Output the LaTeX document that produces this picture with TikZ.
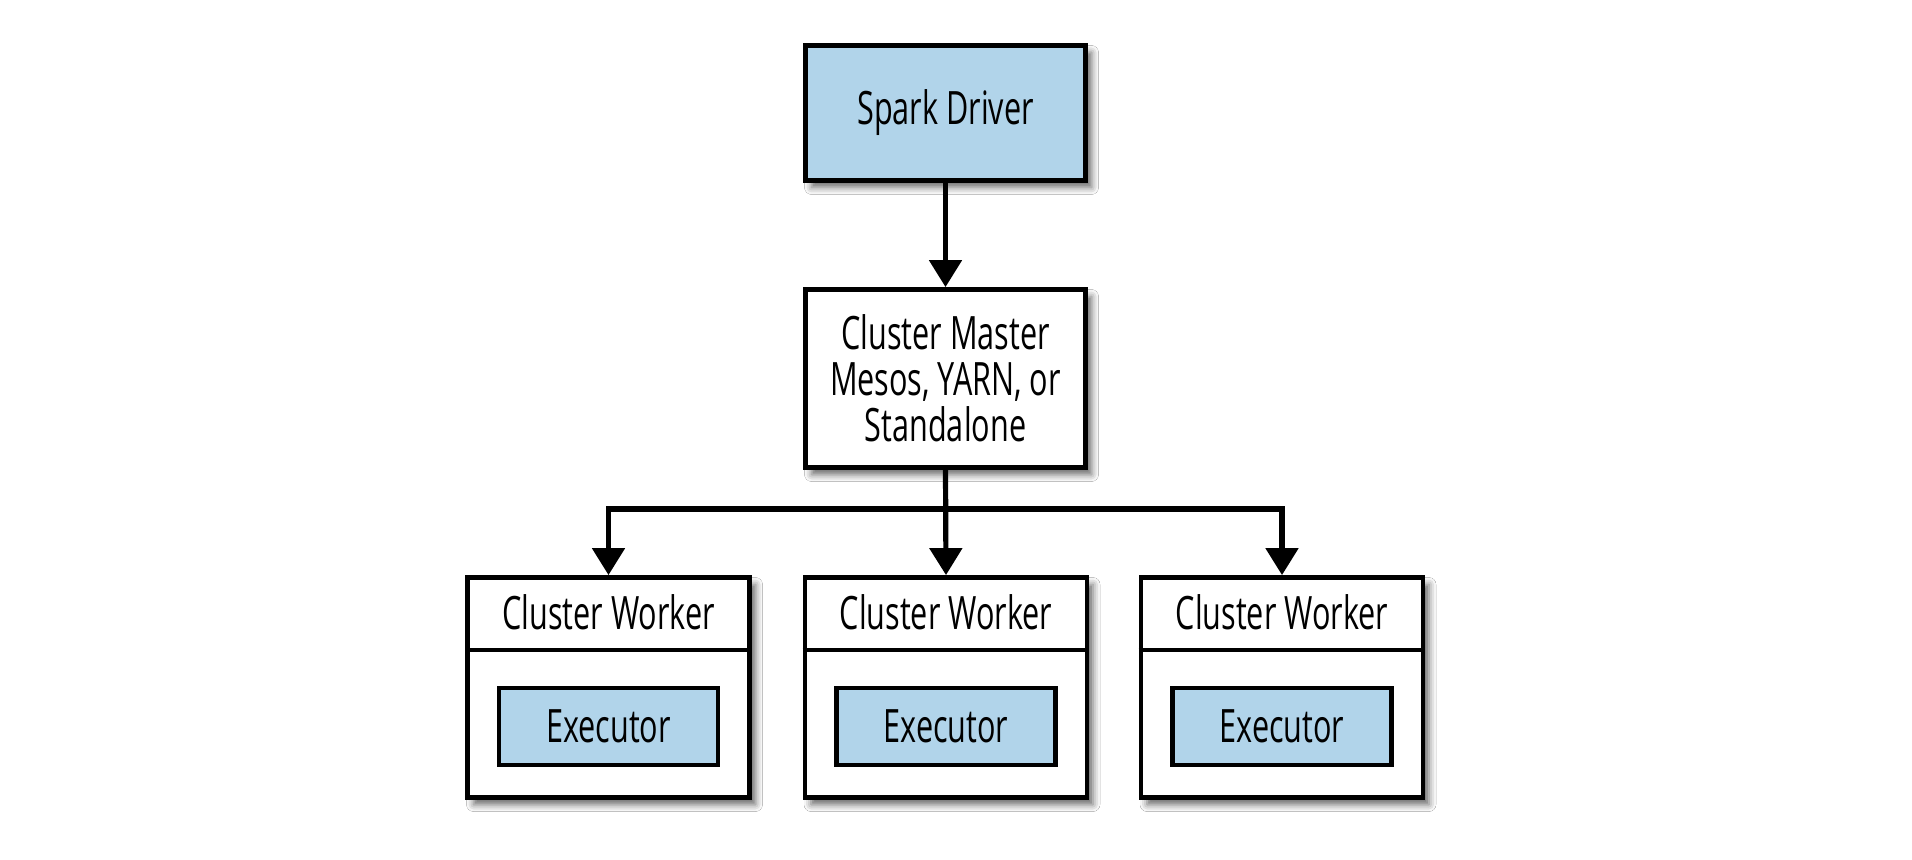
\documentclass[tikz,border=0pt]{standalone}
\usepackage{fontspec}
\setmainfont{Open Sans}[FakeStretch=0.665]
\usetikzlibrary{arrows.meta,shadows.blur}
\definecolor{boxblue}{RGB}{177,212,234}
\tikzset{
  box/.style={draw=black, line width=2.4pt, inner sep=0pt, align=center,
    font=\fontsize{23}{23}\selectfont,
    blur shadow={shadow xshift=3pt, shadow yshift=-3.5pt, shadow blur radius=3.5pt, shadow opacity=60}},
  drvbox/.style={box, fill=boxblue, minimum width=140pt, minimum height=67.5pt},
  mstbox/.style={box, fill=white, minimum width=140pt, minimum height=89pt},
  wrkbox/.style={box, fill=white, minimum width=141pt, minimum height=110pt},
  exebox/.style={draw=black, line width=2.2pt, fill=boxblue, inner sep=0pt,
    minimum width=109.5pt, minimum height=38.5pt, font=\fontsize{23}{23}\selectfont},
  ttl/.style={inner sep=0pt, font=\fontsize{23}{23}\selectfont},
  divider/.style={draw=black, line width=2.4pt},
  conn/.style={draw=black, line width=2.6pt, line join=miter,
    -{Triangle[width=16pt,length=13.5pt]}}
}
\begin{document}
\begin{tikzpicture}[x=0.5pt,y=-0.5pt]
  \useasboundingbox[fill=white] (0,0) rectangle (1912,860);
  % driver and master
  \node[drvbox] (drv) at (945.5,113) {Spark Driver};
  \node[mstbox] (mst) at (945.5,378.5) {Cluster Master\\Mesos, YARN, or\\Standalone};
  % workers
  \foreach \i/\cx in {1/608.5,2/946,3/1282}{
    \node[wrkbox] (w\i) at (\cx,687.5) {};
    \draw[divider] (w\i.west |- 0,650) -- (w\i.east |- 0,650);
    \node[ttl] (w\i t) at (\cx,612) {Cluster Worker};
    \node[exebox] (w\i e) at (\cx,726.5) {Executor};
  }
  % connectors
  \coordinate (bus) at (946,509);
  \draw[conn] (drv.south) -- (mst.north);
  \draw[conn] (mst.south) -- (w2.north);
  \draw[conn] (bus) -| (w1.north);
  \draw[conn] (bus) -| (w3.north);
\end{tikzpicture}
\end{document}
